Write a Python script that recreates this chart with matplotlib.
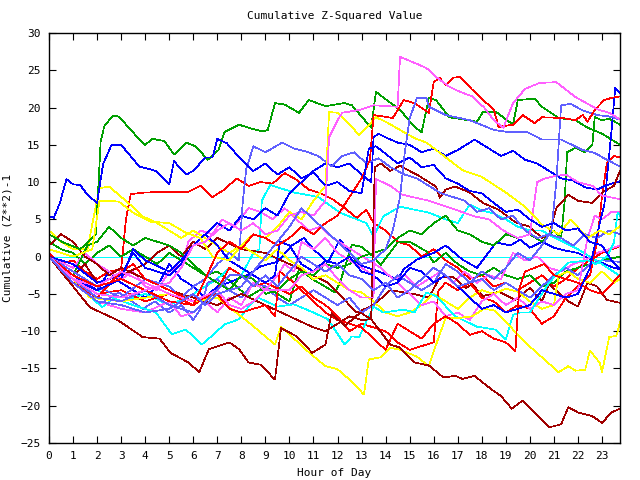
import matplotlib
matplotlib.use("Agg")
import matplotlib.pyplot as plt

# gnuplot-like palette seen in the picture
RED = "#ff0000"
GRN = "#00a000"
BLU = "#0000ff"
MAG = "#ff60ff"
CYN = "#00ffff"
DRD = "#a00000"
YEL = "#ffff00"
SLT = "#6060ff"

title = "Cumulative Z-Squared Value"
xlabel = "Hour of Day"
ylabel = "Cumulative (Z**2)-1"
xticks = list(range(0, 24))
yticks = list(range(-25, 31, 5))

# each walk: hours of its turning points and the value there
dr1_h = [0, 0.85, 1.7, 2.9, 3.9, 4.6, 5.05, 5.8, 6.25, 6.65, 7.5, 7.9, 8.3, 8.8, 9.4, 9.65, 10.25, 10.95, 11.5, 11.75,
         12.3, 12.95, 13.4, 14.2, 14.6, 15.2, 15.8, 16.4, 16.9, 17.2, 17.7, 18.4, 18.8, 19.25, 19.7, 20.2, 20.8, 21.3,
         21.6, 22, 22.6, 23, 23.4, 23.75]
dr1_v = [0, -3.4, -6.8, -8.6, -10.8, -11, -12.9, -14.2, -15.5, -12.4, -11.5, -12.4, -14.2, -14.5, -16.5, -9.6, -10.6,
         -12.9, -11.8, -7.6, -9.3, -7.5, -8.4, -11.8, -12.2, -14.2, -14.6, -16.2, -16, -16.4, -16, -17.8, -18.7, -20.4,
         -19.3, -20.9, -22.9, -22.5, -20.2, -20.9, -21.4, -22.3, -20.9, -20.4]

c1_h = [0, 1, 2.2, 2.7, 3.5, 4.45, 5.1, 5.7, 6.35, 6.75, 7.3, 7.9, 8.3, 8.7, 9.5, 10.2, 11, 11.6, 12.3, 12.6, 12.9,
        13.2, 13.5, 13.9, 14.75, 15.2, 15.7, 16.1, 16.9, 17.8, 18.6, 19, 19.3, 19.6, 20, 20.8, 21.2, 21.6, 22.4,
        22.75, 23.2, 23.5, 23.65, 23.75]
c1_v = [0, -3, -6.8, -5.6, -6.5, -7.5, -10.4, -9.8, -11.8, -10.7, -9.1, -8.4, -6.7, -5.5, -6.7, -6.4, -7.5, -8.4,
        -11.8, -10.7, -10.8, -8.7, -6.7, -7.5, -7.1, -7.5, -4.8, -5.3, -8, -9.4, -9.8, -11.1, -7.8, -7.5, -7.5, -3.5,
        -2.1, -0.8, -0.5, -1, 0, 1.9, 5.9, 5.5]

g1_h = [0, 0.6, 1.3, 1.95, 2.15, 2.3, 2.65, 2.9, 3.6, 4.0, 4.3, 4.8, 5.2, 5.7, 6.1, 6.6, 7.05, 7.3, 7.9, 8.4, 8.9,
        9.1, 9.4, 9.8, 10.4, 10.8, 11.5, 12.3, 12.6, 13.4, 13.6, 14.05, 14.6, 15.2, 15.5, 15.8, 16.1, 16.65, 17.8,
        18.05, 18.6, 19.3, 19.5, 20.2, 20.5, 21.2, 21.9, 22.4, 23, 23.75]
g1_v = [3.0, 1.9, 1.0, 3.0, 15.5, 17.5, 18.9, 18.8, 16.3, 15, 15.8, 15.5, 13.7, 15.3, 14.8, 13, 14.3, 16.7, 17.7,
        17.2, 16.8, 17, 20.6, 20.4, 19.3, 21, 20.2, 20.6, 20.3, 17.3, 22.1, 21, 19.7, 17.4, 16.7, 21.3, 21.0, 18.7,
        18.1, 19.4, 19.4, 17.7, 21, 21.2, 20.1, 18.6, 18.3, 17.3, 16.5, 15.0]

b1_h = [0, 0.2, 0.45, 0.73, 1, 1.3, 1.6, 2, 2.25, 2.6, 3, 3.75, 4.45, 5, 5.2, 5.7, 6, 6.5, 6.8, 7, 7.4, 8, 8.5, 9,
        9.5, 10, 10.5, 11, 11.5, 12, 12.5, 13, 13.3, 13.6, 14, 14.5, 15, 15.5, 16, 16.5, 17, 17.5, 18, 18.5, 19,
        19.5, 20, 20.5, 21, 21.5, 22, 22.5, 23, 23.4, 23.75]
b1_v = [5.4, 5.2, 7.2, 10.4, 9.7, 9.6, 8.3, 7.2, 12.4, 15, 15, 12.1, 11.5, 9.7, 12.8, 11, 11.5, 13.3, 13.3, 15.8,
        15.2, 13, 11.5, 12.5, 11, 12, 10.5, 11.3, 9.5, 10, 8.8, 8.5, 14.5, 14.8, 13.8, 12.5, 13.3, 12, 12.3, 10.5,
        9.8, 8.8, 8.5, 7.2, 6, 6.3, 5, 4, 4.5, 3.5, 3.8, 2, 1.5, -0.5, -1.7]

y1_h = [0, 1, 1.7, 3, 4, 5, 6, 7, 7.46, 8.3, 9.4, 9.65, 10.9, 11.5, 12, 12.5, 13.1, 13.3, 13.8, 14.2, 14.6, 15.3,
        15.8, 16.1, 16.5, 17.1, 17.6, 18.1, 18.5, 18.9, 19.8, 20.5, 21.2, 21.6, 21.9, 22.3, 22.5, 22.9, 23, 23.3,
        23.6, 23.75]
y1_v = [0, -3, -5.5, -6, -5.5, -5, -6, -5.5, -6.7, -8.8, -11.8, -9.4, -13.1, -14.7, -15.1, -16.5, -18.5, -13.8,
        -13.5, -12.2, -12.5, -13.4, -14.7, -11.8, -8.2, -8.2, -8, -7, -7.2, -8.4, -11.5, -13.5, -15.5, -14.7, -15.3,
        -15.2, -12.6, -14.2, -15.5, -10.8, -10.6, -8.8]

y2_h = [0, 0.5, 1, 1.6, 1.9, 2.1, 2.5, 3.3, 3.9, 4.5, 5, 5.5, 6, 6.5, 7, 7.5, 8, 8.5, 9, 9.5, 10, 10.5, 11, 11.5,
        12, 12.5, 13, 13.5, 14, 14.5, 15, 15.5, 16, 16.5, 17, 17.5, 18, 18.5, 19, 19.5, 20, 20.5, 21, 21.2, 21.6,
        22, 22.5, 23, 23.5, 23.75]
y2_v = [3.5, 2, 1, 1, 6, 9.2, 9.4, 7.2, 5.4, 4.5, 3.5, 2.5, 3.5, 2.5, 1.5, 0.5, 1.5, 0.5, -0.5, 1.0, -0.5, -1.5,
        -3, -2.5, -3.5, -4.5, -4.8, -6, -7.5, -8, -7.5, -6.5, -5, -6, -7, -5.5, -4.5, -5, -4.3, -4.7, -6, -7, -6.5,
        -2.5, -2, -3, -3.5, -2, -3.5, -3]

y3_h = [0, 1, 1.8, 2.1, 2.9, 3.5, 4.2, 5, 5.7, 6.3, 6.8, 7.5, 8, 8.5, 9, 9.5, 10, 10.5, 11, 11.5, 11.65, 12, 12.4,
        12.9, 13.6, 14, 15.2, 15.7, 16.1, 17.2, 18, 19, 19.8, 20.5, 21.2, 21.7, 22.4, 22.9, 23.3, 23.75]
y3_v = [1, 0, 1, 7.5, 7.4, 5.9, 4.7, 4.5, 3.2, 2.5, 0, -0.5, 1.5, 3, 2.5, 4, 6, 5, 7.5, 9.5, 19.4, 19.3, 18.1,
        16.3, 18.7, 18.1, 15.9, 15.3, 14.3, 11.6, 10.7, 8.6, 6.7, 4.3, 3, 5, 2.5, 3.5, 3, 4.1]

m1_h = [0, 1, 2, 3, 4, 5, 5.5, 6, 6.5, 7, 7.5, 8, 8.5, 9, 9.5, 10, 10.5, 11, 11.5, 11.65, 12, 12.2, 12.95, 13.5,
        14.5, 14.6, 15.2, 15.7, 16.1, 16.65, 17.1, 17.6, 18.1, 18.5, 18.9, 19.3, 19.8, 20.4, 21.1, 21.9, 22.85,
        23.3, 23.75]
m1_v = [0, -3, -5, -5.5, -4.5, -3.5, -1.5, 1.5, 2, 3.5, 4.5, 3.5, 4.5, 3, 3.5, 5.5, 6, 5.5, 7.5, 16, 18.3, 19.3,
        19.7, 20.3, 20.1, 26.8, 26, 25.3, 24.1, 22.8, 22.1, 21.5, 20, 18.3, 17.3, 20.6, 22.5, 23.3, 23.4, 21.4, 19.7,
        19.3, 18.4]

rt_h = [0, 1, 2, 3, 4, 5, 6, 6.5, 7, 7.5, 8, 8.5, 9, 9.5, 10, 10.5, 11, 11.5, 12, 12.5, 13, 13.35, 13.5, 14.3,
        14.75, 15.2, 15.8, 16, 16.25, 16.5, 16.8, 17.1, 17.6, 18.5, 18.7, 19.3, 19.7, 20.2, 20.5, 21.35, 21.9,
        22.2, 22.4, 22.7, 23.1, 23.4, 23.75]
rt_v = [0, -2.5, -4, -3, -4.5, -6, -6.5, -3, 0.5, 2, 1, 3, 2.5, 1.5, 2.5, 4, 3, 4.5, 5.5, 8, 10.5, 13, 19, 18.6,
        21, 20.6, 19.3, 23.4, 24, 23, 24, 24.1, 22.4, 19.7, 17.4, 17.7, 19, 17.9, 18.7, 18.6, 18.3, 19, 18.1, 19.7,
        21, 21.3, 21.5]

st_h = [0, 1, 2, 3, 4, 5, 6, 6.5, 7, 8, 8.5, 9, 9.5, 10, 10.5, 11, 11.5, 12, 12.5, 13, 13.5, 14, 14.3, 14.6, 14.8,
        15, 15.3, 15.7, 15.8, 16.5, 17.5, 18.5, 19.1, 19.9, 20.5, 21.3, 22.2, 22.7, 23.2, 23.75]
st_v = [0, -3.5, -6, -6.5, -7.5, -7, -5, -6.5, -5, -4, -2, 0, 2, 4, 6.5, 5, 3.5, 2, 0.5, -1, -0.5, 1, 3.5, 8, 14,
        18.5, 21.3, 21.3, 20.1, 19, 18.3, 17, 16.7, 16.7, 15.7, 15.7, 14.3, 13.9, 13, 12.1]

b2_h = [0, 1, 2, 3, 3.5, 4, 5, 5.5, 6, 6.5, 7, 7.5, 8, 8.5, 9, 9.4, 9.6, 10, 10.5, 11, 11.5, 12, 12.5, 13, 13.5,
        14, 14.5, 15, 15.5, 16, 16.5, 17, 17.5, 18, 18.5, 19, 19.5, 20, 20.5, 21, 21.5, 22, 22.5, 22.8, 23.1, 23.4,
        23.55, 23.75]
b2_v = [0, -3, -4.5, -3, 1, -0.5, -2, -0.5, 1.5, 3, 1.5, -0.5, -1.5, -2.5, -3.5, -2.5, 2, 1.5, -1, -2, -0.5, -1,
        0, -2, -2.5, -4, -3.5, -1.5, -2, -3.5, -2.5, -4, -5.5, -7, -6.5, -7.5, -7, -6.5, -4.5, -5, -5.5, -5, -1.5,
        3, 7, 17, 22.6, 22]

r2_h = [0, 1, 2, 3, 4, 5, 6, 7, 7.5, 8, 8.5, 9, 10, 10.5, 11, 11.5, 12, 12.5, 13, 13.5, 14, 14.5, 15, 15.5, 16,
        16.2, 16.5, 17, 17.5, 18, 18.5, 19, 19.5, 20, 20.5, 21, 21.5, 22, 22.5, 22.8, 23, 23.2, 23.5, 23.75]
r2_v = [0, -3, -5, -4.5, -6, -5, -6.5, -4.5, -1.5, -2.5, -4, -3.5, -5, -4, -5.5, -6.5, -8, -10, -9, -9.5, -10,
        -11.5, -12.5, -12, -11.5, -4.5, -3.5, -4.5, -3.5, -5.5, -6, -7.5, -6.5, -7, -9, -8, -5.5, -4, -2.5, 2, 8,
        12.5, 13.5, 13.3]

r3_h = [0, 1, 2, 3, 3.5, 4, 5, 6, 7, 7.5, 8, 9, 9.4, 9.6, 10, 10.5, 11, 11.5, 12, 12.5, 13, 13.5, 14, 14.5, 15,
        15.5, 16, 16.5, 17, 17.5, 18, 18.5, 19, 19.4, 19.55, 19.8, 20.2, 20.6, 21, 21.5, 22, 22.5, 23, 23.75]
r3_v = [0, -3.5, -5.5, -2, -1, -3, -4.5, -6, -5, -7, -7.5, -6.5, -8, -2, -3, -4.5, -6, -7.5, -8.5, -9, -9.5, -11,
        -12.5, -9, -10, -11, -9, -8, -9, -10.5, -10, -11, -11.5, -12.7, -4.4, -2, -1.5, -1, -2.5, -3, -3.5, -4.5,
        -5, -2.5]

dr2_h = [0, 0.5, 1, 1.5, 2, 2.5, 3, 4, 5, 6, 7, 8, 9, 10, 11, 11.5, 12, 12.5, 13, 13.4, 13.55, 13.8, 14.2, 14.6,
         15, 15.3, 16.1, 16.25, 16.5, 16.9, 17.5, 18.05, 18.7, 19.4, 20, 20.5, 20.8, 21.1, 21.6, 22, 22.6, 23, 23.5,
         23.75]
dr2_v = [1.5, 3, 2, 0, -1, -2.5, -1.5, -3, -4.5, -5.5, -6.5, -5, -6.5, -8, -9.5, -10, -9, -8, -8.5, -8.4, 12, 12.5,
         11.5, 12.2, 11.5, 11, 9.4, 7.9, 9, 9.4, 8.6, 7.2, 6.3, 4.6, 4, 2.5, 3, 6.5, 8.3, 7.5, 7.2, 8.6, 9.5, 11.5]

dr3_h = [0, 1, 1.5, 2, 3, 4, 4.5, 5, 5.5, 6, 6.5, 7, 8, 9, 10.2, 11.6, 12.8, 13.5, 14.2, 15.3, 15.8, 16.25, 16.8,
         17.35, 17.6, 18.05, 18.7, 19.4, 20, 20.5, 20.8, 21.6, 22, 22.4, 22.8, 23.2, 23.75]
dr3_v = [0, -2.5, -1, -3.5, -2.5, -1, 0.5, 1.5, 0, 2, 1, 2.5, 1, 0.5, -1.3, -3.5, -7.5, -6.5, -4.5, -5.1, -5.5,
         -2.8, -2.7, -4.2, -3.7, -5.3, -4.7, -5.8, -4.2, -6, -3.7, -6, -6.7, -3.5, -4, -5.8, -6.2]

r1_h = [0, 0.5, 1, 1.5, 2, 2.5, 3, 3.2, 3.4, 4, 5, 5.8, 6.3, 6.8, 7.3, 7.8, 8.3, 8.8, 9.3, 9.8, 10.3, 10.8, 11.3,
        11.8, 12.3, 12.8, 13.2, 13.5, 14, 14.5, 15, 15.5, 16, 16.5, 17, 17.5, 18, 18.5, 19, 19.5, 20, 20.5, 21,
        21.5, 22, 22.5, 23, 23.75]
r1_v = [0.5, -1, -0.5, -2, -3, -2, -1.7, 5, 8.4, 8.6, 8.7, 8.7, 9.5, 8, 9, 10.5, 9.5, 10, 9.8, 11.2, 10.3, 9, 8.5,
        7.7, 6.5, 5.2, 6.3, 4.5, 3.5, 2, 1.5, 0, 1, -0.5, -1.5, -3, -2.5, -4, -3.5, -4.5, -3.5, -2.5, -4, -3, -1.5,
        -0.5, 0.5, 1.4]

g2_h = [0, 0.5, 1, 1.5, 2, 2.5, 3, 3.5, 4, 4.5, 5, 5.5, 6, 6.5, 7, 7.46, 8.3, 9, 10, 10.4, 11, 11.9, 12.1, 12.6,
        13, 13.5, 13.8, 14.5, 15, 15.7, 16, 16.5, 17, 17.5, 18, 18.5, 19, 19.5, 20, 20.5, 21, 21.5, 22, 22.5, 23,
        23.75]
g2_v = [2, 1, 0.5, -1, 0.5, 1.5, 0, 1, 0, -1, 0.5, -0.5, -1.5, -2.5, -2, -3.1, -5.4, -4, -6, -1.7, -3.1, -4.8,
        -3.5, 1.6, 1.3, 0, -1.1, 1.9, 2, 0.7, -0.8, 0.5, -1, -2, -2.5, -1.5, -2.5, -3, -2.5, -4, -3.5, -2, -1.5, -1,
        -0.5, 0]

g3_h = [0, 1, 1.6, 2, 2.5, 3, 3.5, 4, 5, 5.5, 6, 6.5, 7, 7.5, 8, 8.5, 9, 9.5, 10, 10.5, 11, 11.5, 12, 12.5, 13,
        13.5, 14, 14.5, 15, 15.5, 16, 16.5, 17, 17.5, 18, 18.5, 19, 19.5, 20, 20.5, 21, 21.3, 21.45, 21.55, 21.9,
        22.3, 22.6, 22.7, 23, 23.3, 23.75]
g3_v = [0, -2.5, 1.5, 2, 4, 2.5, 1.5, 2.5, 1.5, 0.5, -1, -2.5, -3.5, -4.5, -2.5, -3, -5, -4.5, -3, -2, -2.5, -1,
        -1.5, -1, 0, 0.5, 1, 2.5, 3.5, 3, 4.5, 5.5, 3.5, 3, 2, 1.5, 3, 2.5, 3, 2, 3.5, 2.5, 7.5, 14, 14.6, 14, 15,
        18.7, 18.3, 18.5, 17.7]

m2_h = [0, 1, 2, 3, 4, 5, 6, 7, 7.5, 8, 8.5, 9, 10, 10.5, 11, 11.5, 12, 12.5, 13, 13.5, 13.6, 14.2, 14.7, 15.8,
        16.9, 17.7, 18.3, 18.9, 19.5, 20, 20.3, 20.55, 21, 21.5, 22, 22.6, 23, 23.75]
m2_v = [0, -3, -4, -2, -3.5, -5, -6, -4.5, -6.5, -7, -6, -4.5, -4.5, -2.5, -2, -1, -3, -4.5, -5.5, -5.5, 10.4, 9.5,
        8.3, 7.5, 6.3, 5.4, 5, 3.5, 2.5, 3, 10, 10.4, 10.8, 11, 10, 9.5, 8.2, 7.7]

m3_h = [0, 1, 2, 3, 4, 5, 5.5, 6, 6.5, 7, 7.5, 8, 8.5, 9, 9.5, 9.8, 10.2, 10.5, 11, 11.5, 12, 12.5, 13, 13.5, 14,
        14.5, 15, 15.5, 16, 16.5, 17, 17.5, 18, 18.5, 19, 19.5, 20, 20.5, 21, 21.5, 22, 22.4, 22.7, 23, 23.4, 23.75]
m3_v = [0, -3.5, -6, -7, -7.5, -6, -8, -7.5, -6, -7.5, -5.5, -6.5, -3.5, -4.5, -2.5, -1, -2, 2, 1, 2.5, 0.5, -0.5,
        -1.5, -2.5, -4, -3.5, -5, -6.5, -6, -8, -7.5, -8.5, -6, -5, -6.5, -5.5, -7, -6, -6.5, -5, -4.5, 2.5, 5.5, 5,
        6, 6]

m4_h = [0, 1, 1.5, 2, 3, 3.5, 4, 4.5, 5, 5.5, 5.8, 6.3, 6.8, 7.2, 7.7, 8.3, 8.8, 9.3, 9.8, 10.3, 10.8, 11.3, 11.8,
        12.3, 12.8, 13.3, 13.8, 14.3, 14.8, 15.3, 15.8, 16.3, 16.8, 17.3, 17.8, 18.3, 18.8, 19.3, 19.8, 20.3, 20.8,
        21.3, 21.8, 22.3, 22.8, 23.3, 23.75]
m4_v = [0, -1.5, 0.5, -1, -3, -2, -4, -4.5, -2, -1, 2, 3.5, 3, 5, 4, 6.5, 6, 5, 6.5, 5, 3.5, 4, 2.5, 1.5, 0.5,
        -0.5, -1.5, -3, -2.5, -4, -3, -2, -3.5, -2, -3.5, -2.5, -3, 0.5, -0.5, 0, -1.5, -2, -1, -0.5, 0.5, 1, 1.5]

s2_h = [0, 1, 1.7, 2.1, 2.9, 3.9, 4.4, 5, 5.5, 6, 6.3, 6.6, 7, 7.5, 8, 8.5, 9, 9.5, 10, 10.5, 11, 11.5, 12, 12.5,
        13, 13.5, 14, 14.5, 15, 15.5, 16, 16.5, 17, 17.5, 18, 18.5, 19, 19.5, 20, 20.5, 21, 21.5, 22, 22.5, 23,
        23.75]
s2_v = [0, -3.5, -5.3, -6.4, -4.8, -7, -6, -7.5, -6.5, -8.5, -7, -3.5, -3, -4.5, -5.5, -3.5, -4, -5.5, -6.5, -5.5,
        -4.5, -5.5, -6.5, -5.5, -7.5, -6.5, -4, -2.5, -3.5, -4.5, -3.5, -1, -2, -3.5, -3, -4.5, -3.5, -4.5, -5.5,
        -4, -2.5, -1.5, -2.5, -1, -0.5, -0.7]

s3_h = [0, 1, 2, 3, 4, 5, 5.5, 6, 6.5, 7, 7.5, 7.9, 8.05, 8.2, 8.5, 9, 9.7, 10.2, 10.7, 11.2, 11.75, 12.2, 12.7,
        13.2, 13.7, 14.2, 14.8, 15.3, 15.8, 16.3, 16.8, 17.3, 17.8, 18.3, 18.8, 19.3, 19.8, 20.3, 20.8, 21.3, 21.8,
        22.3, 22.8, 23.3, 23.75]
s3_v = [0, -2, -4, -5.5, -3, -4, -5.5, -4, -3, -1, 0.5, -0.5, 7, 11.7, 14.8, 14, 15.3, 14.5, 14.1, 13.5, 12.1,
        13.5, 14, 12.5, 13.2, 12, 11, 10.5, 9.5, 8.5, 8, 7.5, 6, 6.5, 5, 5.5, 3.5, 2.5, 3, 2.5, 1.5, 3, 2.5, 3.5, 3]

c2_h = [0, 1, 2, 3, 4, 5, 6, 6.5, 7, 7.5, 8, 8.5, 8.75, 8.85, 9.2, 10.2, 11.2, 12.1, 13.2, 13.5, 13.9, 14.6, 15.2,
        15.8, 16.5, 17, 17.5, 18, 18.5, 19, 19.5, 20, 20.5, 21, 21.5, 22, 22.5, 23, 23.75]
c2_v = [0, -3, -4.5, -6, -5, -6.5, -5, -4, -3, -1.5, -2.5, 0.5, 1, 7.5, 9.6, 8.6, 8, 5.9, 4.5, 2.7, 5.4, 6.7, 6.3,
        5.9, 5, 4.5, 7, 6.2, 5.8, 5, 4, 3.5, 3.5, 2.6, 1.8, 1, 0, -1, -2.6]

c0_h = [0, 23.75]
c0_v = [0, 0]

b3_h = [0, 1, 2, 2.5, 3, 4, 4.5, 5, 5.5, 6, 6.5, 7, 7.46, 8.3, 8.8, 9.5, 10.1, 10.6, 11, 11.6, 12.1, 12.9, 13.8,
        14.5, 14.75, 15.3, 16, 16.5, 17.2, 17.8, 18.6, 19.2, 19.6, 20, 20.5, 21, 21.5, 22, 22.5, 23, 23.4, 23.75]
b3_v = [0, -2.5, -4.5, -2, -3.5, -5.5, -4, -1, -3, -4, -5.5, -4, -3.5, -2.4, -1.3, -0.7, 1.5, 2.5, 1, -0.8, 2.3,
        -1.1, -2.1, -3.1, -1.7, -0.4, 0.5, 1.5, -0.4, -1.5, 1.9, 1.5, 2.3, 1.2, 2, 1.2, 0.8, 0.5, -0.3, -0.8, -1.4,
        -1.7]

b4_h = [0, 1, 2, 3, 3.5, 4, 5, 5.5, 6, 6.5, 7, 7.5, 8, 8.5, 9, 9.5, 10, 10.5, 11, 11.5, 12, 12.5, 13, 13.4, 13.5,
        13.7, 14, 14.5, 15, 15.5, 16, 16.5, 17, 17.7, 18.3, 18.8, 19.3, 19.8, 20.3, 20.8, 21.3, 21.8, 22.3, 22.8,
        23.2, 23.75]
b4_v = [0, -1, -3.5, -2.5, 0.5, -1.5, -2.5, -1, 1.5, 3, 4.5, 3.5, 5.5, 5, 6.5, 5.5, 8.5, 10, 11.5, 12.5, 12, 12.5,
        11, 10, 16, 16.5, 16, 15.3, 15, 14, 14.5, 13.5, 14.3, 15.7, 14.5, 13.5, 14.2, 13, 12.5, 11.5, 10.5, 10.2,
        9.3, 9, 9.6, 10.1]

s4_h = [0, 1, 2, 3, 4, 5, 6, 6.5, 7, 7.5, 8, 8.5, 9, 9.5, 10, 10.5, 11, 11.5, 12, 12.5, 13, 13.5, 14, 14.5, 15,
        15.5, 16, 16.5, 17, 17.5, 18, 18.5, 19, 19.5, 20, 20.5, 20.9, 21.1, 21.3, 21.7, 22.2, 22.8, 23.3, 23.75]
s4_v = [0, -3, -5.5, -6, -4.5, -6.5, -7.5, -6, -4.5, -2.5, -2.5, -4, -2.5, -4, -2, 0, -1, -2, -1, -2.5, -3, -4.5,
        -3.5, -5.5, -4.5, -3, -1.5, -2.5, -4, -3.5, -2, -3, -1.5, 0.5, -0.5, 1.5, 3.5, 10, 20.3, 20.5, 19.6, 19,
        18.8, 18.4]

walks = [
    (c0_h, c0_v, CYN),
    (r1_h, r1_v, RED), (g2_h, g2_v, GRN), (b3_h, b3_v, BLU), (m4_h, m4_v, MAG), (c2_h, c2_v, CYN),
    (dr3_h, dr3_v, DRD), (y2_h, y2_v, YEL), (s2_h, s2_v, SLT),
    (r2_h, r2_v, RED), (g3_h, g3_v, GRN), (b4_h, b4_v, BLU), (m3_h, m3_v, MAG), (c1_h, c1_v, CYN),
    (dr2_h, dr2_v, DRD), (y1_h, y1_v, YEL), (s3_h, s3_v, SLT),
    (r3_h, r3_v, RED), (g1_h, g1_v, GRN), (b2_h, b2_v, BLU), (m2_h, m2_v, MAG),
    (dr1_h, dr1_v, DRD), (y3_h, y3_v, YEL), (s4_h, s4_v, SLT),
    (rt_h, rt_v, RED), (b1_h, b1_v, BLU), (m1_h, m1_v, MAG), (st_h, st_v, SLT),
]

plt.rcParams["font.family"] = ["DejaVu Sans Mono"]
plt.rcParams["font.size"] = 8

fig = plt.figure(figsize=(6.4, 4.8), dpi=100)
ax = fig.add_axes([49 / 640, 37 / 480, 571 / 640, 410 / 480])

for hrs, vals, col in walks:
    ax.plot(hrs, vals, color=col, lw=0.5, antialiased=False)

ax.set_xlim(0, 23.75)
ax.set_ylim(-25, 30)
ax.set_xticks(xticks)
ax.set_yticks(yticks)
ax.tick_params(direction="in", length=5, width=0.8, top=True, right=True, labelsize=8, pad=6)
for sp in ax.spines.values():
    sp.set_linewidth(1.0)

ax.set_title(title, fontsize=8, pad=10)
ax.set_xlabel(xlabel, fontsize=8, labelpad=5)
ax.set_ylabel(ylabel, fontsize=8, labelpad=6)

fig.savefig("out.png", dpi=100)
